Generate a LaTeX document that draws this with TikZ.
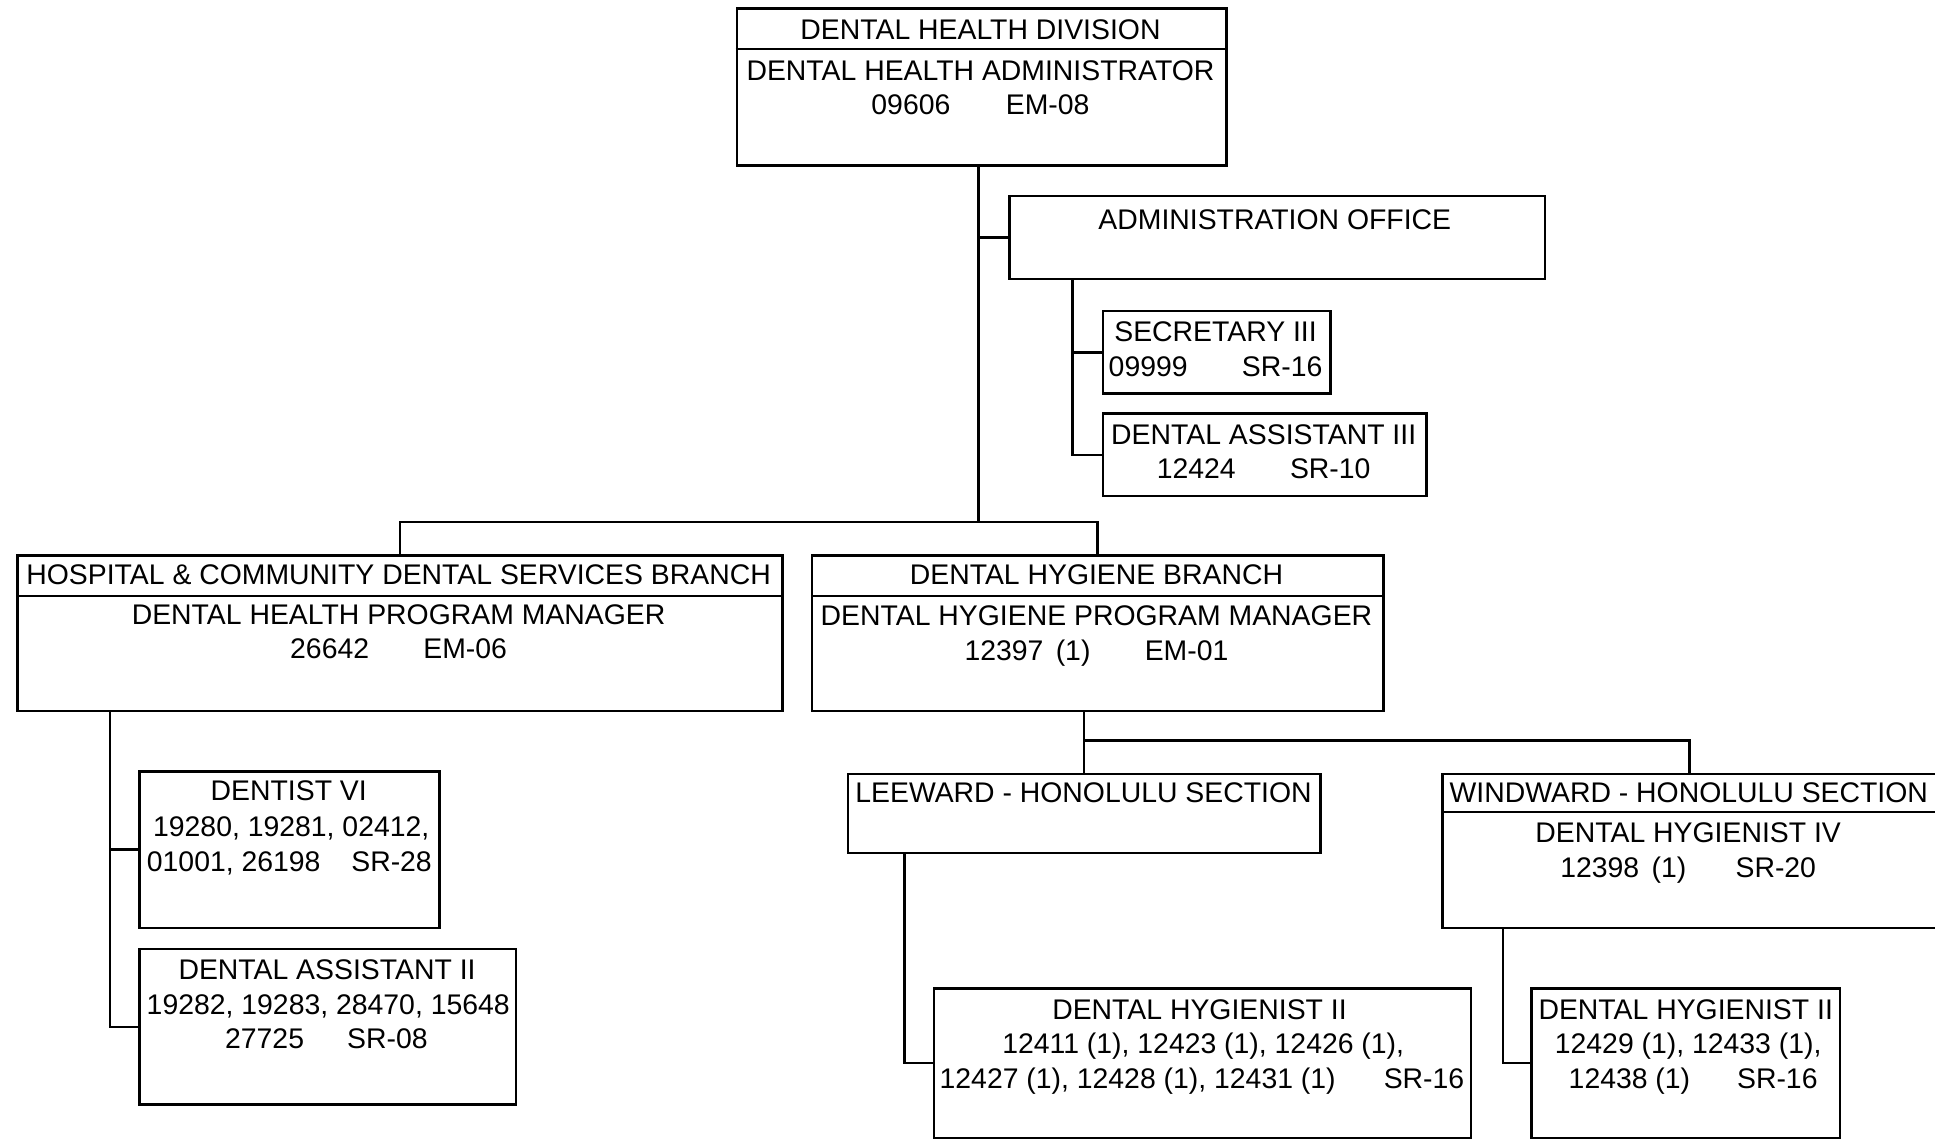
\documentclass[tikz,border=0pt]{standalone}
\usepackage{fontspec}
\setmainfont{Liberation Sans}
\begin{document}
\begin{tikzpicture}[x=1pt,y=-1pt,
  box/.style={draw,line width=2pt,rectangle,inner sep=0pt,anchor=north west},
  txt/.style={anchor=base,inner sep=0pt,font=\fontsize{23}{28}\selectfont},
  link/.style={draw,line width=2pt},
  rule/.style={line width=1.8pt}]
\fill[white] (0,0) rectangle (1568,923);
\useasboundingbox (0,0) rectangle (1568,923);

% ---- boxes ----
\node[box,minimum width=397pt,minimum height=127pt] (top) at (596,6) {};
\node[box,minimum width=434pt,minimum height=67pt] (admin) at (817,158) {};
\node[box,minimum width=184pt,minimum height=67pt] (sec) at (893,251) {};
\node[box,minimum width=262pt,minimum height=67pt] (da3) at (893,334) {};
\node[box,minimum width=620pt,minimum height=126pt] (hcdsb) at (13,449) {};
\node[box,minimum width=463pt,minimum height=126pt] (dhb) at (657,449) {};
\node[box,minimum width=243pt,minimum height=127pt] (dent) at (112,624) {};
\node[box,minimum width=305pt,minimum height=126pt] (da2) at (112,768) {};
\node[box,minimum width=383pt,minimum height=64pt] (lee) at (686,626) {};
\node[box,minimum width=400pt,minimum height=125pt] (win) at (1168,626) {};
\node[box,minimum width=435pt,minimum height=121pt] (dh2l) at (756,800) {};
\node[box,minimum width=250pt,minimum height=121pt] (dh2w) at (1240,800) {};

% ---- section dividers ----
\draw[rule] (596,40) -- (993,40);
\draw[rule] (13,483) -- (633,483);
\draw[rule] (657,483) -- (1120,483);
\draw[rule] (1168,658) -- (1568,658);

% ---- texts ----
\node[txt] (t1a) at (794.5,32) {DENTAL HEALTH DIVISION};
\node[txt] (t1b) at (794.5,65) {DENTAL HEALTH ADMINISTRATOR};
\node[txt] (t1c) at (794.5,93) {09606\hspace{45pt}EM-08};

\node[txt] (t2a) at (1033,186) {ADMINISTRATION OFFICE};

\node[txt] (t3a) at (985,277) {SECRETARY III};
\node[txt] (t3b) at (985,305) {09999\hspace{44pt}SR-16};

\node[txt] (t4a) at (1024,360) {DENTAL ASSISTANT III};
\node[txt] (t4b) at (1024,388) {12424\hspace{44pt}SR-10};

\node[txt] (t5a) at (323,474) {HOSPITAL \& COMMUNITY DENTAL SERVICES BRANCH};
\node[txt] (t5b) at (323,506) {DENTAL HEALTH PROGRAM MANAGER};
\node[txt] (t5c) at (323,534) {26642\hspace{44pt}EM-06};

\node[txt] (t6a) at (888.5,474) {DENTAL HYGIENE BRANCH};
\node[txt] (t6b) at (888.5,507) {DENTAL HYGIENE PROGRAM MANAGER};
\node[txt] (t6c) at (888.5,535) {12397\hspace{10pt}(1)\hspace{44pt}EM-01};

\node[txt] (t7a) at (234,649) {DENTIST VI};
\node[txt] (t7b) at (236,678) {19280, 19281, 02412,};
\node[txt] (t7c) at (234.5,706) {01001, 26198\hspace{25pt}SR-28};

\node[txt] (t8a) at (265,794) {DENTAL ASSISTANT II};
\node[txt] (t8b) at (266,822) {19282, 19283, 28470, 15648};
\node[txt] (t8c) at (264.5,850) {27725\hspace{35pt}SR-08};

\node[txt] (t9a) at (878,650) {LEEWARD - HONOLULU SECTION};

\node[txt] (t10a) at (1368.5,650) {WINDWARD - HONOLULU SECTION};
\node[txt] (t10b) at (1368,683) {DENTAL HYGIENIST IV};
\node[txt] (t10c) at (1368,711) {12398\hspace{10pt}(1)\hspace{40pt}SR-20};

\node[txt] (t11a) at (972,826) {DENTAL HYGIENIST II};
\node[txt] (t11b) at (975,854) {12411 (1), 12423 (1), 12426 (1),};
\node[txt] (t11c) at (974,882) {12427 (1), 12428 (1), 12431 (1)\hspace{39pt}SR-16};

\node[txt] (t12a) at (1366,826) {DENTAL HYGIENIST II};
\node[txt] (t12b) at (1368,854) {12429 (1), 12433 (1),};
\node[txt] (t12c) at (1372,882) {12438 (1)\hspace{38pt}SR-16};

% ---- connectors ----
\coordinate (hmain) at (0,423);
\coordinate (hsec) at (0,600);
\coordinate (asub) at (869,0);
\coordinate (hsub) at (89,0);
\coordinate (lsub) at (733,0);
\coordinate (wsub) at (1218,0);
\coordinate (tstem) at (793,0);

\draw[link] (tstem |- top.south) -- (tstem |- hmain);
\draw[link] (tstem |- admin.west) -- (admin.west);
\draw[link] (hcdsb.north) -- (hcdsb.north |- hmain) -- (dhb.north |- hmain) -- (dhb.north);

\draw[link] (asub |- admin.south) |- (da3.west);
\draw[link] (asub |- sec.west) -- (sec.west);

\draw[link] (hsub |- hcdsb.south) |- (da2.west);
\draw[link] (hsub |- dent.west) -- (dent.west);

\draw[link] (lee.north |- dhb.south) -- (lee.north);
\draw[link] (lee.north |- hsec) -- (win.north |- hsec) -- (win.north);

\draw[link] (lsub |- lee.south) |- (dh2l.west);
\draw[link] (wsub |- win.south) |- (dh2w.west);
\end{tikzpicture}
\end{document}
